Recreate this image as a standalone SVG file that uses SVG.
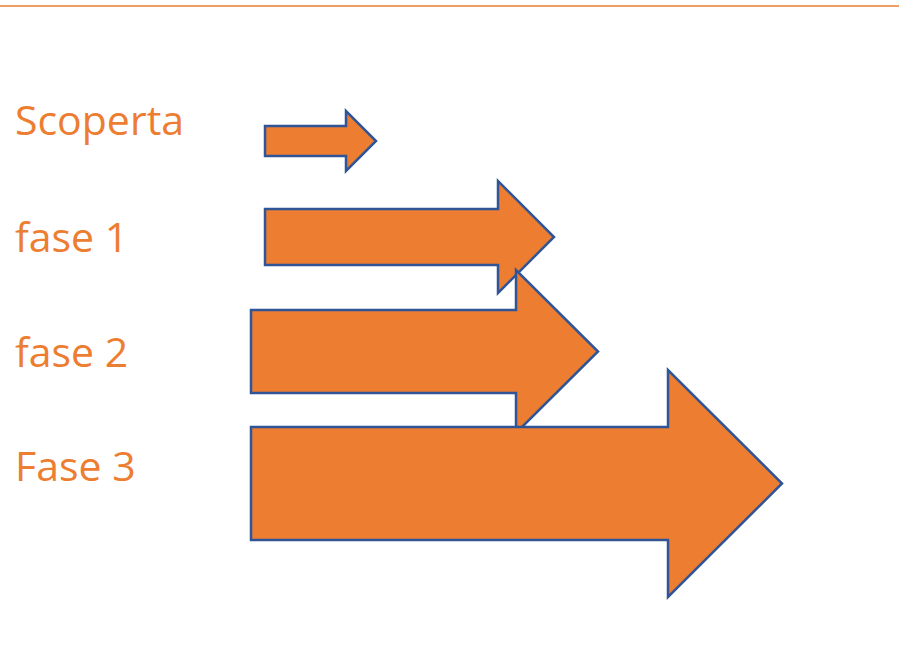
<svg xmlns="http://www.w3.org/2000/svg" width="899" height="653" viewBox="0 0 899 653">
<style>
.arrow{fill:#ED7D31;stroke:#2F5597;stroke-width:2.5;stroke-linejoin:miter}
.lbl{fill:#ED7D31;font-family:"Open Sans","Noto Sans","Liberation Sans",sans-serif;font-size:41px}
</style>
<rect width="899" height="653" fill="#ffffff"/>
<line x1="0" y1="6" x2="899" y2="6" stroke="#ED7D31" stroke-width="1.5"/>
<g id="label-scoperta"><text class="lbl" x="15" y="135">Scoperta</text></g>
<g id="label-fase1"><text class="lbl" x="15" y="252">fase 1</text></g>
<g id="label-fase2"><text class="lbl" x="15" y="367">fase 2</text></g>
<g id="label-fase3"><text class="lbl" x="15" y="481">Fase 3</text></g>
<g id="arrow-scoperta"><polygon class="arrow" points="265,126 346,126 346,111 376,141 346,171 346,156 265,156"/></g>
<g id="arrow-fase1"><polygon class="arrow" points="265,209 498,209 498,181 554,237 498,293 498,265 265,265"/></g>
<g id="arrow-fase2"><polygon class="arrow" points="251,310 516,310 516,270 598,351.5 516,433 516,393 251,393"/></g>
<g id="arrow-fase3"><polygon class="arrow" points="251,427 668,427 668,370 782,483.5 668,597 668,540 251,540"/></g>
<g id="connectors"/>
</svg>
